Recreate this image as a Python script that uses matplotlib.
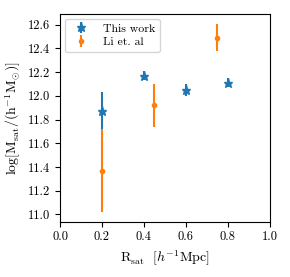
import matplotlib
matplotlib.use("Agg")
import matplotlib.pyplot as plt

plt.rcParams['font.family'] = ['cmr10', 'DejaVu Serif']
plt.rcParams['mathtext.fontset'] = 'cm'
plt.rcParams['axes.formatter.use_mathtext'] = True
plt.rcParams['font.size'] = 9.5

# this work
r_this = [0.2, 0.4, 0.6, 0.8]
m_this = [11.87, 12.17, 12.05, 12.11]
e_this = [0.16, 0.04, 0.05, 0.04]

# Li et al
r_li = [0.2, 0.45, 0.75]
m_li = [11.37, 11.92, 12.49]
e_li = [0.35, 0.18, 0.115]

fig, ax = plt.subplots(figsize=(2.9, 2.77), dpi=100)
ax.errorbar(r_this, m_this, yerr=e_this, fmt='*', color='#1f77b4', ms=6.5, label='This work')
ax.errorbar(r_li, m_li, yerr=e_li, fmt='o', color='#ff7f0e', ms=3, label='Li et. al')

ax.set_xlim(0, 1)
ax.set_ylim(10.94, 12.69)
ax.set_xticks([0, 0.2, 0.4, 0.6, 0.8, 1.0])
ax.set_xticklabels(['0.0', '0.2', '0.4', '0.6', '0.8', '1.0'], fontsize=9)
ax.set_yticks([11.0, 11.2, 11.4, 11.6, 11.8, 12.0, 12.2, 12.4, 12.6])
ax.set_yticklabels(['11.0', '11.2', '11.4', '11.6', '11.8', '12.0', '12.2', '12.4', '12.6'], fontsize=9)
ax.set_xlabel(r'$\mathrm{R_{sat}}\ \ [h^{-1}\mathrm{Mpc}]$', fontsize=10)
ax.set_ylabel(r'$\log[\mathrm{M_{sat}}/(\mathrm{h^{-1}M_{\odot}})]$', fontsize=10)
ax.legend(loc='upper left', fontsize=8.5, borderaxespad=0.4, labelspacing=0.3)

fig.subplots_adjust(left=0.207, right=0.93, top=0.95, bottom=0.2)
fig.savefig('out.png', dpi=100)
